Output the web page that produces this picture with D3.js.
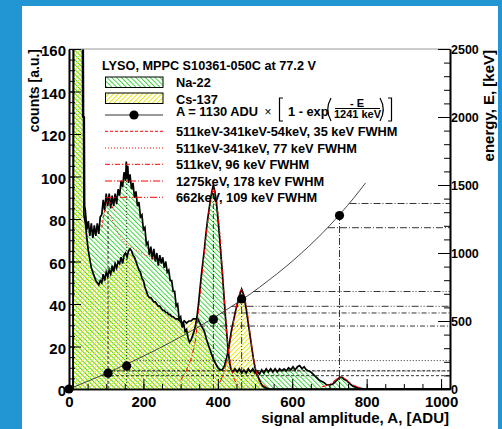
<!DOCTYPE html>
<html>
<head>
<meta charset="utf-8">
<script src="https://cdn.jsdelivr.net/npm/d3@7"></script>
<style>
  html, body { margin: 0; padding: 0; background: #2196d3; }
  svg { display: block; }
  text { font-family: "Liberation Sans", Arial, Helvetica, sans-serif; font-weight: bold; fill: #000; }
</style>
</head>
<body>
<svg id="chart" width="502" height="429"></svg>
<script>
// --- data ---

// Na-22 spectrum (green hatch): signal amplitude [ADU] and counts [a.u.]
const naADU = [0, 11, 12, 36, 37, 41, 42, 44, 48, 52, 56, 60, 64, 68, 72, 76, 80, 84, 88, 92, 96,
  100, 104, 108, 112, 116, 120, 124, 128, 132, 136, 140, 144, 148, 152, 154, 156, 158, 160, 164, 168,
  172, 176, 180, 184, 188, 192, 196, 200, 204, 208, 212, 216, 220, 224, 228, 232, 236, 240, 244, 248,
  252, 256, 260, 264, 268, 272, 276, 280, 284, 288, 292, 296, 300, 304, 308, 312, 316, 320, 324, 328,
  332, 336, 340, 344, 348, 352, 356, 360, 364, 368, 372, 376, 380, 384, 388, 392, 396, 400, 404, 408,
  412, 416, 420, 424, 428, 432, 436, 440, 446, 452, 458, 464, 470, 476, 482, 488, 494, 500, 506, 512,
  518, 524, 530, 536, 542, 548, 554, 560, 566, 572, 578, 584, 590, 596, 602, 608, 614, 620, 626, 632,
  638, 644, 650, 656, 662, 668, 674, 680, 686, 692, 698, 704, 710, 716, 722, 728, 734, 740, 746, 752,
  758, 764, 770, 776, 784, 792, 1024];
const naCounts = [0, 0, 175, 175, 128, 128, 86, 84, 75, 79, 72, 78, 71, 77, 72, 78, 73, 81, 82, 89, 84,
  92, 86, 92, 85, 91, 86, 92, 87, 94, 91, 98, 95, 102, 98, 107, 99, 105, 97, 101, 94,
  97, 90, 93, 86, 88, 81, 82, 75, 76, 68, 69, 63, 67, 61, 66, 60, 64, 58, 63, 59,
  62, 57, 60, 55, 56, 51, 51, 46, 46, 39, 40, 33, 34, 29, 31, 27, 28, 24, 22, 23,
  25, 27, 30, 34, 40, 47, 54, 60, 66, 73, 79, 84, 89, 93, 96, 93, 88, 81, 73, 64,
  55, 45, 35, 26, 18, 12, 9, 8, 9.5, 8, 9.5, 7.5, 9, 7.5, 9.5, 8, 9.5, 7.5, 8.5, 7,
  9, 7.5, 9.5, 8, 9.5, 8, 9.5, 8, 9.5, 8.5, 9.5, 8.5, 10, 9, 10.5, 9, 10.5, 11, 9.5, 10.5,
  9, 8.5, 8, 7, 6, 5, 4, 3.5, 3, 2, 2, 2, 2.5, 3.5, 4.5, 5.5, 5.5, 4.5, 4, 3,
  2, 1.2, 1, 0.5, 0.3, 0, 0];

// Cs-137 spectrum (yellow hatch)
const csADU = [0, 11, 12, 38, 40, 44, 48, 52, 56, 60, 64, 68, 72, 76, 80, 84, 88, 92, 96, 100,
  104, 108, 112, 116, 120, 124, 128, 132, 136, 140, 144, 148, 152, 156, 160, 164, 168, 172, 176, 180,
  184, 188, 192, 196, 200, 204, 208, 212, 216, 220, 224, 228, 232, 236, 240, 244, 248, 252, 256, 260,
  264, 268, 272, 276, 280, 286, 292, 298, 304, 310, 316, 322, 328, 334, 340, 346, 352, 358, 364, 370,
  376, 382, 388, 394, 400, 406, 412, 418, 424, 430, 436, 442, 448, 454, 460, 464, 468, 472, 476, 480,
  485, 490, 495, 500, 505, 510, 515, 520, 528, 540, 1024];
const csCounts = [0, 0, 175, 175, 82, 78, 71, 65, 61, 57, 55, 53, 51, 50, 49, 51, 50, 54, 51, 55,
  53, 56, 54, 58, 55, 59, 57, 60, 59, 62, 59, 63, 64, 62, 65, 66, 65, 63, 62, 60,
  58, 56, 55, 52, 51, 48, 46, 44, 43, 43, 42, 41, 41, 40, 39, 39, 38, 37, 37, 36,
  36, 35, 35, 34, 34, 33, 33, 32, 31, 32, 31, 32, 32, 33, 33, 33, 31, 29, 27, 23,
  20, 17, 14, 12, 10, 9, 9, 11, 15, 20, 27, 32, 37, 41, 45, 47, 45, 42, 38, 33,
  27, 21, 15, 10, 7, 5, 3, 1.5, 0.5, 0, 0];

// calibration curve A = 1130 ADU x [1 - exp(-E / 1241 keV)]
const calibE   = [0, 100, 200, 300, 400, 500, 600, 700, 800, 900, 1000, 1100, 1200, 1300, 1400, 1515];
const calibADU = [0, 87, 168, 243, 311, 375, 433, 488, 537, 583, 625, 664, 700, 733, 764, 797];

// fitted peak positions (markers on the calibration curve)
const markerADU = [0, 105, 155, 388, 464, 727];
const markerE   = [0, 116, 170, 511, 662, 1275];

// peaks, in legend order
const peakNames   = ["511keV-341keV-54keV, 35 keV FWHM", "511keV-341keV, 77 keV FWHM",
                     "511keV, 96 keV FWHM", "1275keV, 178 keV FWHM", "662keV, 109 keV FWHM"];
const peakADU     = [105, 155, 388, 727, 464];
const peakTop     = [84, 100, 95, 81.6, 44];          // top of vertical guide, counts
const bandLowE    = [98, 132, 463, 1186, 608];        // E - FWHM/2
const bandHighE   = [134, 209, 559, 1364, 717];       // E + FWHM/2
const bandLowADU  = [86, 114, 352, 696, 437];
const bandHighADU = [116, 174, 410, 754, 496];

// red gaussian fits
const fitADU = [
  [88, 95, 100, 105, 110, 115, 122],
  [110, 120, 130, 140, 150, 160, 175, 190, 205, 220, 235],
  [300, 316, 330, 340, 350, 360, 370, 380, 388, 396, 405, 415, 425, 435, 445, 455],
  [680, 690, 700, 710, 720, 728, 736, 745, 755, 765, 775, 785],
  [405, 415, 425, 435, 445, 455, 460, 464, 470, 478, 486, 494, 502, 510, 520, 530]
];
const fitCounts = [
  [76, 83, 87, 89, 88, 86, 84],
  [82, 78, 74, 71, 69, 67.5, 66, 64.5, 63, 62, 61],
  [4, 9, 15, 23, 40, 58, 75, 89, 95, 90, 74, 48, 24, 10, 4, 2],
  [1, 1.5, 2.3, 3.5, 4.8, 5.6, 5.5, 4.5, 3, 1.8, 1, 0.5],
  [3, 7, 14, 24, 35, 43, 46, 47, 45, 38, 27, 16, 9, 4, 2, 1]
];

const legendTitle = "LYSO, MPPC S10361-050C at 77.2 V";

// line style per peak
const dashes = ["3,2", "1,2", "5,2,1,2", "7,2,1,2", "7,2,1,2,1,2"];

// --- chart ---
const svg = d3.select("#chart");
svg.append("rect").attr("x", 22).attr("y", 6).attr("width", 476).attr("height", 423).attr("fill", "#fff");

const X0 = 69, X1 = 450, Y0 = 49, Y1 = 389;
const x  = d3.scaleLinear().domain([0, 1024]).range([X0, X1]);
const yL = d3.scaleLinear().domain([0, 160]).range([Y1, Y0]);
const yR = d3.scaleLinear().domain([0, 2500]).range([Y1, Y0]);

const defs = svg.append("defs");
defs.append("clipPath").attr("id", "frame")
  .append("rect").attr("x", X0).attr("y", Y0).attr("width", X1 - X0).attr("height", Y1 - Y0);

function hatch(id, color, angle) {
  const p = defs.append("pattern").attr("id", id)
    .attr("patternUnits", "userSpaceOnUse")
    .attr("width", 3.4).attr("height", 3.4)
    .attr("patternTransform", `rotate(${angle})`);
  p.append("rect").attr("x", 0).attr("y", 0).attr("width", 0.9).attr("height", 3.4).attr("fill", color);
}
hatch("hNa", "#2fd42f", -45);
hatch("hCs", "#e4e400", 45);

const zip = (a, b) => a.map((v, i) => [v, b[i]]);
const na = zip(naADU, naCounts);
const cs = zip(csADU, csCounts);

const area = d3.area().x(d => x(d[0])).y0(Y1).y1(d => yL(d[1]));
const line = d3.line().x(d => x(d[0])).y(d => yL(d[1]));

const plot = svg.append("g").attr("clip-path", "url(#frame)");

plot.append("path").attr("d", area(na)).attr("fill", "url(#hNa)");
plot.append("path").attr("d", area(cs)).attr("fill", "url(#hCs)");

// guide lines: vertical at each peak, horizontal at E +- FWHM/2 to the energy axis
const guides = plot.append("g").attr("stroke", "#000").attr("stroke-width", 0.8).attr("fill", "none");
peakADU.forEach((a, i) => {
  guides.append("line")
    .attr("x1", x(a)).attr("x2", x(a))
    .attr("y1", Y1).attr("y2", yL(peakTop[i]))
    .attr("stroke-dasharray", dashes[i]);
  guides.append("line")
    .attr("x1", x(bandLowADU[i])).attr("x2", X1)
    .attr("y1", yR(bandLowE[i])).attr("y2", yR(bandLowE[i]))
    .attr("stroke-dasharray", dashes[i]);
  guides.append("line")
    .attr("x1", x(bandHighADU[i])).attr("x2", X1)
    .attr("y1", yR(bandHighE[i])).attr("y2", yR(bandHighE[i]))
    .attr("stroke-dasharray", dashes[i]);
});

// histogram outlines
plot.append("path").attr("d", line(cs)).attr("fill", "none").attr("stroke", "#000").attr("stroke-width", 1.7);
plot.append("path").attr("d", line(na)).attr("fill", "none").attr("stroke", "#000").attr("stroke-width", 1.7);

// fits
fitADU.forEach((arr, i) => {
  plot.append("path")
    .attr("d", line(zip(arr, fitCounts[i])))
    .attr("fill", "none").attr("stroke", "#ff0000").attr("stroke-width", 1)
    .attr("stroke-dasharray", dashes[i]);
});

// calibration curve and markers (energy axis)
const calLine = d3.line().curve(d3.curveMonotoneX).x(d => x(d[0])).y(d => yR(d[1]));
plot.append("path").attr("d", calLine(zip(calibADU, calibE)))
  .attr("fill", "none").attr("stroke", "#333").attr("stroke-width", 0.9);

svg.append("g").selectAll("circle")
  .data(zip(markerADU, markerE))
  .join("circle")
  .attr("cx", d => x(d[0])).attr("cy", d => yR(d[1])).attr("r", 4.6).attr("fill", "#000");

// frame top
svg.append("line").attr("x1", X0).attr("x2", X1).attr("y1", Y0).attr("y2", Y0)
  .attr("stroke", "#9a9a9a").attr("stroke-width", 1);

// axes
const fmt = d3.format("d");
function styleAxis(g, size) {
  g.attr("font-family", null).attr("font-size", null);
  g.select(".domain").attr("stroke", "#000").attr("stroke-width", 1.6);
  g.selectAll(".tick line").attr("stroke", "#000").attr("stroke-width", 1);
  g.selectAll(".tick text").style("font-size", size + "px");
}

const gLmin = svg.append("g").attr("transform", `translate(${X0},0)`)
  .call(d3.axisLeft(yL).tickValues(d3.range(0, 161, 5)).tickSizeInner(-6).tickSizeOuter(0).tickFormat(""));
styleAxis(gLmin, 15);
const gL = svg.append("g").attr("transform", `translate(${X0},0)`)
  .call(d3.axisLeft(yL).tickValues(d3.range(0, 161, 20)).tickSizeInner(-12).tickSizeOuter(0)
    .tickPadding(3).tickFormat(fmt));
styleAxis(gL, 15);
gL.selectAll(".tick text").attr("dy", "0.45em");

const gBmin = svg.append("g").attr("transform", `translate(0,${Y1})`)
  .call(d3.axisBottom(x).tickValues(d3.range(0, 1001, 50)).tickSizeInner(-5).tickSizeOuter(0).tickFormat(""));
styleAxis(gBmin, 15);
const gB = svg.append("g").attr("transform", `translate(0,${Y1})`)
  .call(d3.axisBottom(x).tickValues(d3.range(0, 1001, 200)).tickSizeInner(-10).tickSizeOuter(0)
    .tickPadding(7).tickFormat(fmt));
styleAxis(gB, 15);

const gRmin = svg.append("g").attr("transform", `translate(${X1},0)`)
  .call(d3.axisRight(yR).tickValues(d3.range(0, 2501, 100)).tickSizeInner(-6).tickSizeOuter(0).tickFormat(""));
styleAxis(gRmin, 12);
const gR = svg.append("g").attr("transform", `translate(${X1},0)`)
  .call(d3.axisRight(yR).tickValues(d3.range(0, 2501, 500)).tickSizeInner(-12).tickSizeOuter(0)
    .tickPadding(1).tickFormat(fmt));
styleAxis(gR, 12.5);
gR.selectAll(".tick text").attr("dy", "0.36em");

// axis titles
svg.append("text").attr("transform", `translate(39,${Y0}) rotate(-90)`)
  .attr("text-anchor", "end").style("font-size", "14px").text("counts [a.u.]");
svg.append("text").attr("transform", `translate(494,50) rotate(-90)`)
  .attr("text-anchor", "end").style("font-size", "15px").text("energy, E, [keV]");
svg.append("text").attr("x", 449).attr("y", 423)
  .attr("text-anchor", "end").style("font-size", "15px").text("signal amplitude, A, [ADU]");

// legend
const lg = svg.append("g");
lg.append("text").attr("x", 102).attr("y", 69.5).style("font-size", "12.7px").text(legendTitle);

lg.append("rect").attr("x", 105.5).attr("y", 77).attr("width", 57.5).attr("height", 10.5)
  .attr("fill", "url(#hNa)").attr("stroke", "#000").attr("stroke-width", 1);
lg.append("text").attr("x", 176).attr("y", 87).style("font-size", "12.8px").text("Na-22");

lg.append("rect").attr("x", 105.5).attr("y", 93).attr("width", 57.5).attr("height", 10.5)
  .attr("fill", "url(#hCs)").attr("stroke", "#000").attr("stroke-width", 1);
lg.append("text").attr("x", 176).attr("y", 103.5).style("font-size", "12.8px").text("Cs-137");

lg.append("line").attr("x1", 105).attr("x2", 163).attr("y1", 115).attr("y2", 115)
  .attr("stroke", "#777").attr("stroke-width", 1.5);
lg.append("circle").attr("cx", 134).attr("cy", 115).attr("r", 4.6).attr("fill", "#000");

// formula A = 1130 ADU x [ 1 - exp( -E / 1241 keV ) ]
lg.append("text").attr("x", 176).attr("y", 116).style("font-size", "12.8px").text("A = 1130 ADU");
lg.append("text").attr("x", 268).attr("y", 115.5).attr("text-anchor", "middle")
  .style("font-size", "12px").style("font-weight", "normal").text("\u00d7");
const br = lg.append("g").attr("fill", "none").attr("stroke", "#000").attr("stroke-width", 1.2);
br.append("path").attr("d", "M283,98 H279.5 V121 H283");
br.append("path").attr("d", "M388,98 H391.5 V121 H388");
br.append("path").attr("d", "M331,98 Q324.5,109.5 331,121");
br.append("path").attr("d", "M380,98 Q386.5,109.5 380,121");
lg.append("text").attr("x", 288).attr("y", 116).style("font-size", "12.8px").text("1 - exp");
lg.append("text").attr("x", 357).attr("y", 106.5).attr("text-anchor", "middle")
  .style("font-size", "11px").text("- E");
lg.append("line").attr("x1", 335).attr("x2", 380).attr("y1", 108.5).attr("y2", 108.5)
  .attr("stroke", "#000").attr("stroke-width", 1);
lg.append("text").attr("x", 357.5).attr("y", 117.5).attr("text-anchor", "middle")
  .style("font-size", "11px").text("1241 keV");

// fit rows
const rowY = [131.3, 148, 164.3, 181, 197.3];
peakNames.forEach((name, i) => {
  lg.append("line").attr("x1", 105).attr("x2", 163).attr("y1", rowY[i]).attr("y2", rowY[i])
    .attr("stroke", "#ff0000").attr("stroke-width", 1).attr("stroke-dasharray", dashes[i]);
  lg.append("text").attr("x", 176).attr("y", rowY[i] + 4.5).style("font-size", "12.8px").text(name);
});
</script>
</body>
</html>
